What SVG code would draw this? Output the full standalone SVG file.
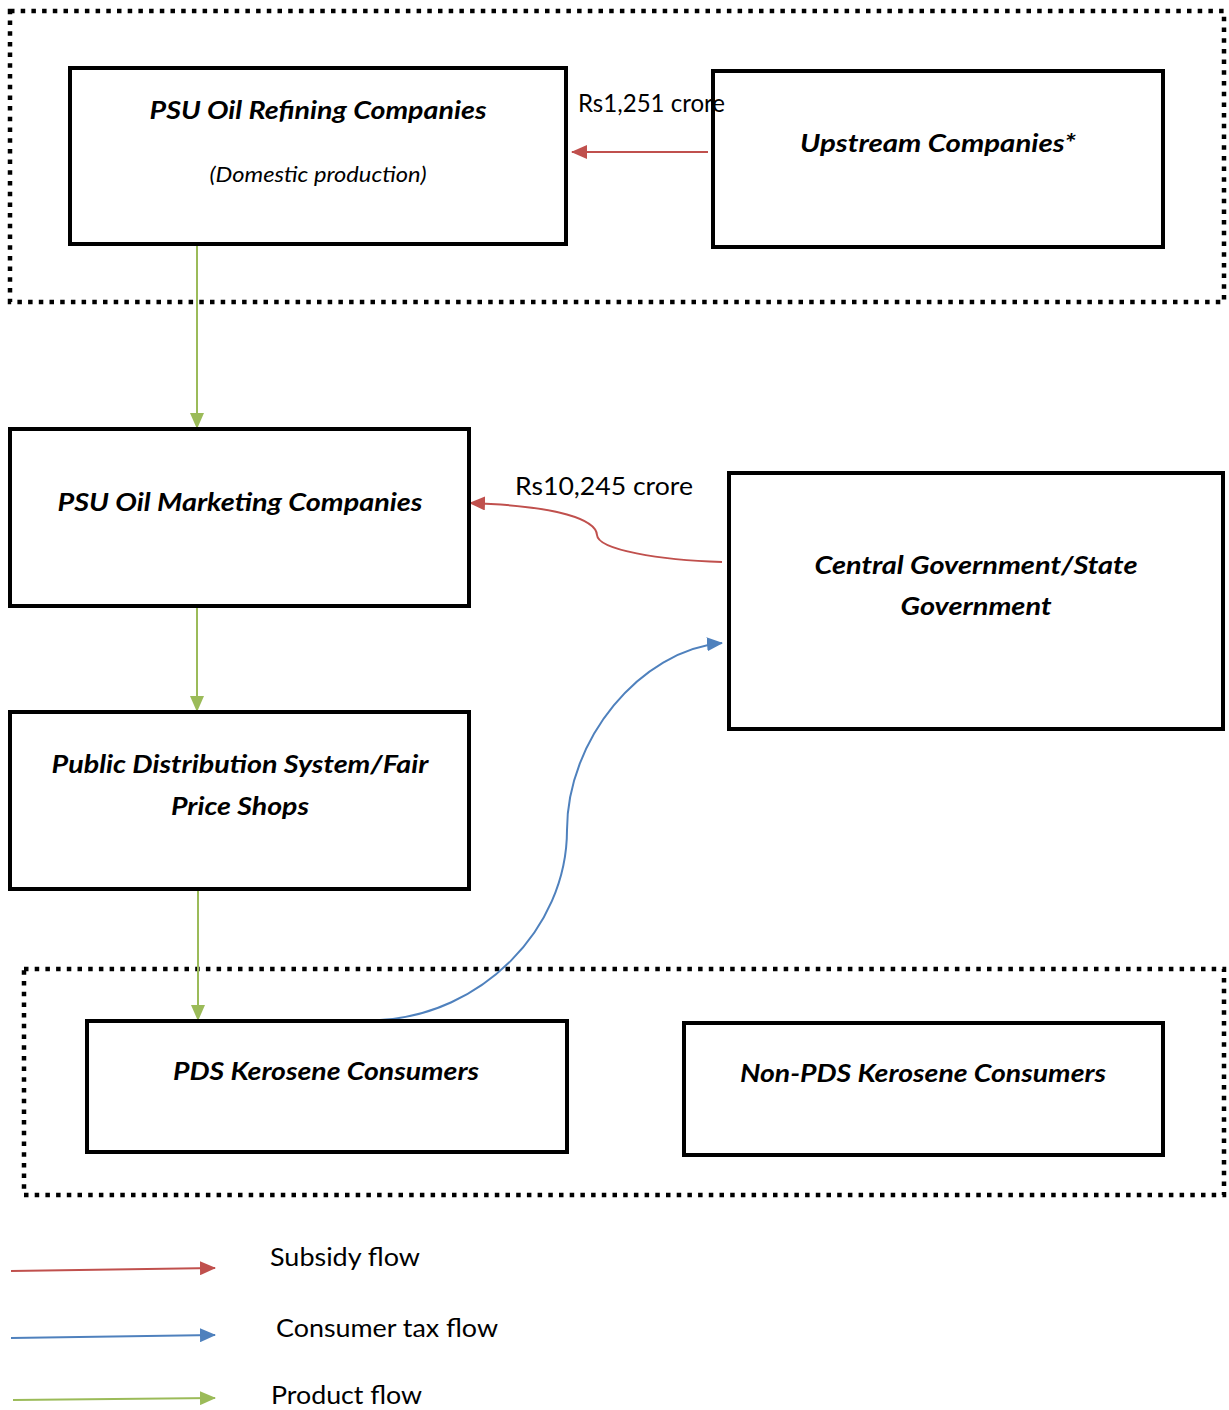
<svg xmlns="http://www.w3.org/2000/svg" width="1229" height="1410" viewBox="0 0 1229 1410">
<style>
.box{fill:#fff;stroke:#000;stroke-width:4}
.dot{fill:none;stroke:#000;stroke-width:4.5;stroke-dasharray:4.5 6.2}
.t{font-family:Lato,"Open Sans","Liberation Sans",sans-serif;font-weight:bold;font-style:italic;font-size:25px;fill:#000;text-anchor:middle}
.s{font-family:Lato,"Open Sans","Liberation Sans",sans-serif;font-style:italic;font-size:21px;fill:#000;text-anchor:middle}
.l{font-family:Lato,"Open Sans","Liberation Sans",sans-serif;font-size:25px;fill:#000}
.red{fill:none;stroke:#C0504D;stroke-width:2}
.blue{fill:none;stroke:#4F81BD;stroke-width:2}
.green{fill:none;stroke:#9BBB59;stroke-width:2}
</style>
<defs>
<marker id="ar" markerUnits="userSpaceOnUse" markerWidth="16" markerHeight="14" refX="15" refY="7" orient="auto"><path d="M0,0 L16,7 L0,14 Z" fill="#C0504D"/></marker>
<marker id="ab" markerUnits="userSpaceOnUse" markerWidth="16" markerHeight="14" refX="15" refY="7" orient="auto"><path d="M0,0 L16,7 L0,14 Z" fill="#4F81BD"/></marker>
<marker id="ag" markerUnits="userSpaceOnUse" markerWidth="16" markerHeight="14" refX="15" refY="7" orient="auto"><path d="M0,0 L16,7 L0,14 Z" fill="#9BBB59"/></marker>
</defs>
<rect width="1229" height="1410" fill="#fff"/>
<rect class="dot" x="10" y="11" width="1214" height="291"/>
<rect class="dot" x="24" y="969" width="1200" height="226"/>
<g id="connectors">
<path class="green" d="M197,246 L197,428" marker-end="url(#ag)"/>
<path class="green" d="M197,606 L197,711" marker-end="url(#ag)"/>
<path class="green" d="M198,890 L198,1020" marker-end="url(#ag)"/>
<path class="red" d="M708,152 L572,152" marker-end="url(#ar)"/>
<path class="red" d="M722,562 C660,560 598,550 597,535 C596,520 560,506 470,503" marker-end="url(#ar)"/>
<path class="blue" d="M380,1020 C480,1015 567,930 567,830 C567,740 640,650 722,643" marker-end="url(#ab)"/>
</g>
<g id="refining">
<rect class="box" x="70" y="68" width="496" height="176"/>
<text class="t" x="318" y="119" textLength="337" lengthAdjust="spacingAndGlyphs">PSU Oil Refining Companies</text>
<text class="s" x="318" y="182" textLength="217" lengthAdjust="spacingAndGlyphs">(Domestic production)</text>
</g>
<g id="upstream">
<rect class="box" x="713" y="71" width="450" height="176"/>
<text class="t" x="938" y="152" textLength="276" lengthAdjust="spacingAndGlyphs">Upstream Companies*</text>
</g>
<g id="marketing">
<rect class="box" x="10" y="429" width="459" height="177"/>
<text class="t" x="240" y="511" textLength="365" lengthAdjust="spacingAndGlyphs">PSU Oil Marketing Companies</text>
</g>
<g id="government">
<rect class="box" x="729" y="473" width="494" height="256"/>
<text class="t" x="976" y="574" textLength="323" lengthAdjust="spacingAndGlyphs">Central Government/State</text>
<text class="t" x="976" y="615" textLength="151" lengthAdjust="spacingAndGlyphs">Government</text>
</g>
<g id="pds">
<rect class="box" x="10" y="712" width="459" height="177"/>
<text class="t" x="240" y="773" textLength="377" lengthAdjust="spacingAndGlyphs">Public Distribution System/Fair</text>
<text class="t" x="240" y="815" textLength="138" lengthAdjust="spacingAndGlyphs">Price Shops</text>
</g>
<g id="pdsconsumers">
<rect class="box" x="87" y="1021" width="480" height="131"/>
<text class="t" x="326" y="1080" textLength="306" lengthAdjust="spacingAndGlyphs">PDS Kerosene Consumers</text>
</g>
<g id="nonpds">
<rect class="box" x="684" y="1023" width="479" height="132"/>
<text class="t" x="923" y="1082" textLength="366" lengthAdjust="spacingAndGlyphs">Non-PDS Kerosene Consumers</text>
</g>
<g id="labels">
<text class="l" x="578" y="112" font-size="22" textLength="147" lengthAdjust="spacingAndGlyphs">Rs1,251 crore</text>
<text class="l" x="515" y="495" textLength="178" lengthAdjust="spacingAndGlyphs">Rs10,245 crore</text>
</g>
<g id="legend">
<path class="red" d="M11,1271 L215,1268" marker-end="url(#ar)"/>
<path class="blue" d="M11,1338 L215,1335" marker-end="url(#ab)"/>
<path class="green" d="M13,1400 L215,1398" marker-end="url(#ag)"/>
<text class="l" x="270" y="1266" textLength="150" lengthAdjust="spacingAndGlyphs">Subsidy flow</text>
<text class="l" x="276" y="1337" textLength="222" lengthAdjust="spacingAndGlyphs">Consumer tax flow</text>
<text class="l" x="271" y="1404" textLength="151" lengthAdjust="spacingAndGlyphs">Product flow</text>
</g>
</svg>
